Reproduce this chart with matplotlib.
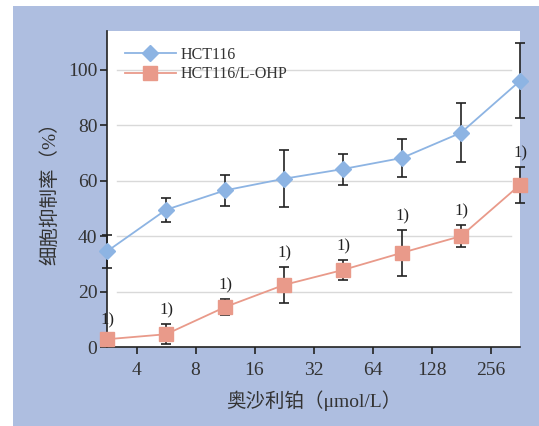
import matplotlib
matplotlib.use('Agg')
import matplotlib.pyplot as plt
from matplotlib.patches import Rectangle

# 8 concentration groups, tick labels sit between the groups
tick_labels = ['4', '8', '16', '32', '64', '128', '256']
hct116 = [34.5, 49.5, 56.5, 60.7, 64.2, 68.2, 77.3, 96.0]
hct116_err = [6.0, 4.3, 5.7, 10.3, 5.6, 7.0, 10.7, 13.5]
hct116_ohp = [2.8, 4.6, 14.4, 22.4, 27.8, 34.0, 40.0, 58.5]
hct116_ohp_err = [2.0, 3.6, 3.0, 6.6, 3.5, 8.3, 4.1, 6.5]
sig_marks = ['1)'] * 8

blue = '#8db4e3'
red = '#e99a8a'
band = '#aebee0'
serif = ['Liberation Serif', 'DejaVu Serif']
mixed = ['Liberation Serif', 'Noto Sans CJK SC', 'DejaVu Sans']

fig = plt.figure(figsize=(5.39, 4.26), dpi=100)
fig.patches.append(Rectangle((13 / 539, 0), 1, 420 / 426, transform=fig.transFigure,
                             facecolor=band, edgecolor='none', zorder=-10))
ax = fig.add_axes([107 / 539, 1 - 347 / 426, 413 / 539, 316 / 426])
ax.set_facecolor('white')

x = list(range(len(hct116)))

for g in [20, 40, 60, 80, 100]:
    ax.axhline(g, xmin=0.025, xmax=0.977, color='#d9d9d9', lw=1, zorder=1)

ax.errorbar(x, hct116, yerr=hct116_err, fmt='none', ecolor='#222222', elinewidth=1.2,
            capsize=3.3, capthick=1.2, zorder=3, clip_on=False)
ax.errorbar(x, hct116_ohp, yerr=hct116_ohp_err, fmt='none', ecolor='#222222', elinewidth=1.2,
            capsize=3.3, capthick=1.2, zorder=3, clip_on=False)
ax.plot(x, hct116, color=blue, lw=1.3, marker='D', ms=8, mfc=blue, mec=blue,
        label='HCT116', zorder=4, clip_on=False)
ax.plot(x, hct116_ohp, color=red, lw=1.3, marker='s', ms=10, mfc=red, mec=red,
        label='HCT116/L-OHP', zorder=4, clip_on=False)

for xi, yi, ei, s in zip(x, hct116_ohp, hct116_ohp_err, sig_marks):
    ax.annotate(s, (xi, yi + ei), xytext=(0, 4), textcoords='offset points',
                ha='center', va='bottom', fontsize=12, family=serif, color='#222222',
                annotation_clip=False)

ax.set_xlim(0, 7)
ax.set_ylim(0, 114)
ax.set_xticks([i + 0.5 for i in range(len(tick_labels))])
ax.set_xticklabels(tick_labels)
ax.set_yticks([0, 20, 40, 60, 80, 100])

for side in ['top', 'right']:
    ax.spines[side].set_visible(False)
for side in ['left', 'bottom']:
    ax.spines[side].set_color('#222222')
    ax.spines[side].set_linewidth(1.2)

ax.tick_params(axis='both', direction='out', length=5, width=1.2, color='#222222',
               labelcolor='#333333', labelsize=14)
for lab in ax.get_xticklabels() + ax.get_yticklabels():
    lab.set_family(serif)
ax.tick_params(axis='x', pad=6)
ax.tick_params(axis='y', pad=2)

ax.set_xlabel('奥沙利铂（μmol/L）', family=mixed, fontsize=14, color='#333333', labelpad=8)
ax.set_ylabel('细胞抑制率（%）', family=mixed, fontsize=14, color='#333333', labelpad=6)

leg = ax.legend(loc='upper left', frameon=False, prop={'family': serif, 'size': 11.5},
                bbox_to_anchor=(0.02, 0.98), handlelength=3.2, handletextpad=0.3,
                labelspacing=0.2, borderaxespad=0.2)
for t in leg.get_texts():
    t.set_color('#333333')

plt.savefig('out.png', dpi=100)
